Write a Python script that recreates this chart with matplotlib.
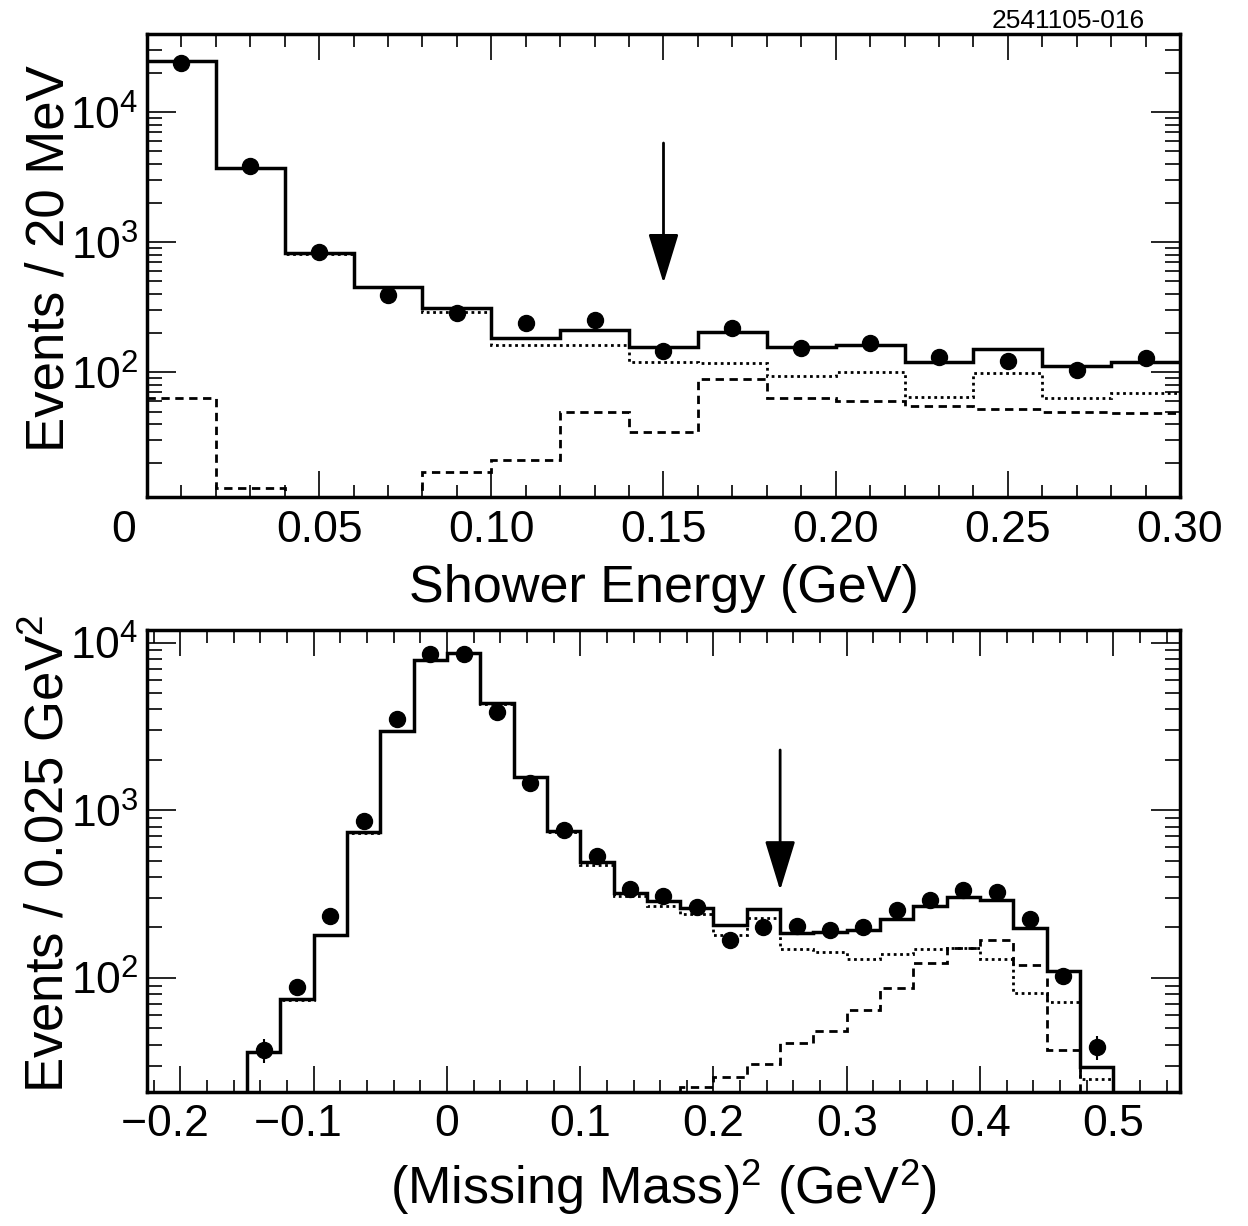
import matplotlib
matplotlib.use('Agg')
import matplotlib.pyplot as plt
from matplotlib.ticker import MultipleLocator, FixedLocator, LogLocator, NullFormatter
import numpy as np

plt.rcParams['font.family'] = ['Liberation Sans', 'DejaVu Sans']
plt.rcParams['mathtext.fontset'] = 'custom'
plt.rcParams['mathtext.rm'] = 'Liberation Sans'
plt.rcParams['mathtext.it'] = 'Liberation Sans:italic'
plt.rcParams['mathtext.default'] = 'regular'

# ---- top panel: shower energy, 20 MeV bins ----
shower_edges = np.linspace(0.0, 0.30, 16)
shower_data = [23900, 3830, 835, 395, 285, 239, 254, 146, 221, 155, 169, 131, 123, 104, 128]
shower_err = [155, 62, 29, 20, 17, 16, 16, 12, 15, 13, 13, 12, 12, 11, 12]
shower_total = [24900, 3720, 826, 457, 310, 183, 210, 156, 206, 156, 163, 120, 151, 111, 120]
shower_signal = [24840, 3707, 820, 450, 293, 162, 163, 121, 118, 93, 100, 65, 99, 63, 69]
shower_bkg = [63, 13, 8, 8, 17, 21, 50, 35, 89, 63, 60, 55, 52, 50, 48.5]
shower_ticks = [0, 0.05, 0.10, 0.15, 0.20, 0.25, 0.30]
shower_ticklabels = ['0\u2003', '0.05', '0.10', '0.15', '0.20', '0.25', '0.30']
shower_cut = 0.15

# ---- bottom panel: missing mass squared, 0.025 GeV^2 bins ----
mm_edges = np.linspace(-0.15, 0.50, 27)
mm_data = [37.2, 88.7, 233, 869, 3490, 8550, 8550, 3870, 1450, 759, 536, 340, 310,
           265, 168, 202, 203, 194, 202, 253, 290, 333, 324, 226, 103, 38.7]
mm_err = [6.1, 9.4, 15, 29, 59, 92, 92, 62, 38, 28, 23, 18, 18,
          16, 13, 14, 14, 14, 14, 16, 17, 18, 18, 15, 10, 6.2]
mm_total = [36.1, 74.5, 181, 738, 2985, 7870, 8690, 4340, 1590, 748, 489, 321, 286,
            262, 208, 258, 186, 188, 194, 226, 270, 304, 293, 199, 110, 29.4]
mm_signal = [36, 74, 180, 735, 2975, 7850, 8670, 4330, 1585, 745, 474, 310, 270,
             239, 181, 228, 148, 142, 130, 138, 148, 151, 129, 81, 72, 24.9]
mm_bkg = [10, 10, 10, 10, 10, 10, 10, 10, 10, 10, 10, 10, 10,
          22.2, 25.8, 30.5, 41.1, 47.9, 64.3, 87.4, 123, 151, 168, 119, 37.2, 10]
mm_ticks = [-0.2, -0.1, 0, 0.1, 0.2, 0.3, 0.4, 0.5]
mm_ticklabels = ['\u22120.2\u2002\u2009', '\u22120.1\u2002\u2009', '0', '0.1', '0.2', '0.3', '0.4', '0.5']
mm_cut = 0.25

fig = plt.figure(figsize=(12.48, 12.26), dpi=100)
ax1 = fig.add_axes([0.1178, 0.5946, 0.8277, 0.3777])
ax2 = fig.add_axes([0.1178, 0.1097, 0.8277, 0.3764])


def style_axis(ax, xminor):
    ax.set_yscale('log')
    for sp in ax.spines.values():
        sp.set_linewidth(2.5)
    ax.xaxis.set_minor_locator(MultipleLocator(xminor))
    ax.yaxis.set_major_locator(FixedLocator([1e2, 1e3, 1e4]))
    ax.yaxis.set_minor_locator(LogLocator(base=10, subs=np.arange(2, 10)))
    ax.yaxis.set_minor_formatter(NullFormatter())
    ax.set_yticklabels([r'$10^{2}$', r'$10^{3}$', r'$10^{4}$'])
    ax.tick_params(which='both', direction='in', top=True, right=True, width=1.2, labelsize=32)
    ax.tick_params(axis='x', which='major', length=19, pad=9)
    ax.tick_params(axis='x', which='minor', length=9)
    ax.tick_params(axis='y', which='major', length=21, pad=6)
    ax.tick_params(axis='y', which='minor', length=11)


def draw_panel(ax, edges, data, err, total, signal, bkg, baseline):
    centers = 0.5 * (edges[:-1] + edges[1:])
    ax.stairs(bkg, edges, baseline=baseline, color='black', lw=2, linestyle=(0, (3, 2)))
    ax.stairs(signal, edges, baseline=baseline, color='black', lw=2, linestyle=(0, (1, 1.3)))
    ax.stairs(total, edges, baseline=baseline, color='black', lw=2.5)
    ax.errorbar(centers, data, yerr=err, fmt='o', color='black', ms=11.5, elinewidth=1.5, capsize=0, zorder=5)


# top
draw_panel(ax1, shower_edges, shower_data, shower_err, shower_total, shower_signal, shower_bkg, None)
style_axis(ax1, 0.01)
ax1.set_xlim(0, 0.30)
ax1.set_ylim(11, 40000)
ax1.set_xticks(shower_ticks)
ax1.set_xticklabels(shower_ticklabels)
ax1.set_xlabel('Shower Energy (GeV)', fontsize=37.5)
ax1.set_ylabel('Events / 20 MeV', fontsize=38)
ax1.xaxis.set_label_coords(0.5, -0.145)
ax1.yaxis.set_label_coords(-0.07, 0.514)
ax1.annotate('', xy=(shower_cut, 485), xytext=(shower_cut, 5800),
             arrowprops=dict(arrowstyle='-|>,head_length=3.1,head_width=0.95', mutation_scale=10,
                             lw=2, color='black', shrinkA=0, shrinkB=0))

# bottom
draw_panel(ax2, mm_edges, mm_data, mm_err, mm_total, mm_signal, mm_bkg, 1)
style_axis(ax2, 0.02)
ax2.set_xlim(-0.225, 0.55)
ax2.set_ylim(21, 11900)
ax2.set_xticks(mm_ticks)
ax2.set_xticklabels(mm_ticklabels)
ax2.set_xlabel(r'(Missing Mass)$^{2}$ (GeV$^{2}$)', fontsize=37.5)
ax2.set_ylabel(r'Events / 0.025 GeV$^{2}$', fontsize=38)
ax2.xaxis.set_label_coords(0.5, -0.142)
ax2.yaxis.set_label_coords(-0.07, 0.515)
ax2.annotate('', xy=(mm_cut, 333), xytext=(mm_cut, 2290),
             arrowprops=dict(arrowstyle='-|>,head_length=3.1,head_width=0.95', mutation_scale=10,
                             lw=2, color='black', shrinkA=0, shrinkB=0))

fig.text(1145 / 1248, 1 - 28 / 1226, '2541105-016', ha='right', va='baseline', fontsize=19)

fig.savefig('out.png', dpi=100)
